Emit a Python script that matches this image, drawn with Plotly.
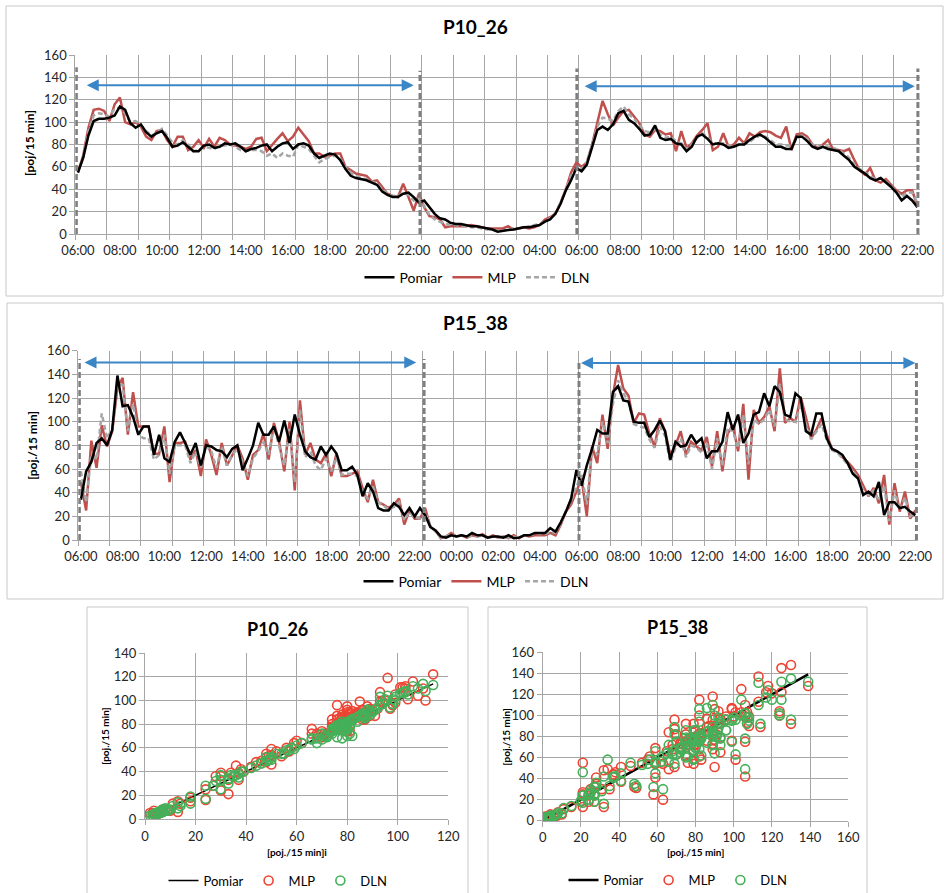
import plotly.graph_objects as go

# ---------------- data ----------------
time_labels = ["06:00", "08:00", "10:00", "12:00", "14:00", "16:00", "18:00", "20:00",
               "22:00", "00:00", "02:00", "04:00", "06:00", "08:00", "10:00", "12:00",
               "14:00", "16:00", "18:00", "20:00", "22:00"]
label_step = 8   # 15-min intervals per 2 h label
grid_step = 6    # 15-min intervals per vertical gridline

p10_pomiar = [55, 68, 88, 101, 103, 103, 104, 106, 114, 111, 99, 95, 98, 91, 87, 90, 92, 86, 78, 79,
              82, 78, 74, 74, 79, 80, 77, 78, 81, 80, 81, 78, 74, 76, 77, 79, 80, 74, 78, 81,
              82, 76, 80, 81, 79, 72, 68, 70, 72, 71, 66, 58, 52, 50, 49,
              48, 46, 44, 38, 35, 33, 33, 36, 37, 33, 28, 30, 24, 18, 14, 13, 10, 9, 9, 8,
              7, 7, 6, 5, 4, 2, 3, 3.5, 4, 5, 6, 6, 7, 8, 11, 13, 18, 27, 39, 48,
              59, 56, 62, 77, 93, 96, 93, 98, 108, 110, 102, 99, 94,
              88, 89, 97, 86, 84, 85, 81, 80, 74, 78, 87, 89, 85, 80, 81, 80, 77, 78, 80, 80,
              84, 87, 89, 86, 82, 78, 78, 76, 76, 87, 87, 83, 78, 76, 78, 76, 75, 74, 70, 66,
              60, 57, 54, 50, 48, 50, 46, 42, 37, 30, 34, 30, 24]
p10_mlp = [55, 70, 95, 111, 112, 110, 101, 116, 122, 100, 98, 100, 96, 87, 84, 92, 93, 84, 78, 87,
           87, 75, 78, 84, 77, 85, 78, 86, 84, 80, 79, 78, 76, 78, 85, 86, 74, 80, 85, 90,
           83, 87, 95, 89, 83, 72, 72, 69, 70, 72, 72, 60, 57, 54, 53,
           52, 47, 48, 42, 36, 34, 33, 45, 33, 21, 36, 24, 16, 15, 13, 6, 7, 7, 7, 7,
           8, 7, 6, 5, 5, 5, 5, 7, 4, 5, 6, 5, 6, 8, 13, 15, 18, 28, 40, 55,
           64, 60, 64, 80, 99, 119, 107, 97, 104, 110, 111, 105, 99,
           89, 87, 93, 92, 89, 90, 74, 92, 77, 81, 88, 93, 99, 75, 78, 90, 78, 80, 86, 81,
           90, 87, 91, 92, 91, 88, 86, 96, 75, 89, 90, 87, 80, 77, 80, 84, 75, 75, 74, 76,
           66, 57, 53, 59, 48, 46, 49, 44, 39, 36, 39, 39, 25]
p10_dln = [55, 68, 92, 106, 108, 107, 105, 112, 113, 108, 100, 101, 97, 92, 88, 90, 94, 88, 82, 80,
           84, 80, 74, 75, 78, 77, 76, 79, 79, 80, 78, 75, 74, 75, 75, 74, 70, 72, 68, 72,
           70, 69, 80, 78, 76, 70, 64, 67, 69, 70, 67, 60, 55, 52, 50,
           49, 47, 45, 40, 36, 34, 34, 37, 35, 30, 32, 25, 17, 13, 11, 9, 8, 8, 7, 7,
           6, 6, 5, 4, 4, 3, 3, 4, 5, 5, 6, 7, 8, 9, 11, 14, 19, 28, 40, 52,
           59, 58, 64, 80, 96, 104, 103, 101, 110, 114, 107, 103, 97,
           92, 91, 94, 89, 86, 87, 83, 81, 76, 80, 86, 90, 87, 80, 82, 81, 79, 79, 80, 81,
           82, 86, 88, 87, 84, 80, 80, 79, 79, 85, 88, 85, 80, 78, 79, 78, 77, 75, 72, 68,
           62, 58, 55, 52, 49, 50, 47, 43, 38, 33, 37, 37, 28]

p15_pomiar = [34, 58, 66, 82, 86, 80, 93, 139, 113, 114, 104, 89, 96, 96, 72, 89, 69, 66, 83, 91,
              82, 72, 82, 63, 80, 79, 76, 75, 70, 77, 80, 59, 69, 80, 99, 89, 89, 96, 83, 101,
              82, 106, 89, 75, 70, 68, 79, 72, 79, 73, 59, 59, 62, 55, 37,
              48, 41, 27, 25, 25, 31, 28, 21, 27, 20, 27, 21, 11, 8, 3, 2, 4, 3, 4, 3,
              6, 4, 4, 2, 3, 3, 2, 4, 1.5, 2, 4, 4, 6, 6, 6, 10, 7, 15, 24, 35,
              59, 46, 63, 77, 93, 90, 90, 125, 130, 118, 117, 100, 99, 99,
              87, 93, 101, 92, 68, 83, 79, 80, 89, 82, 86, 69, 75, 75, 83, 108, 93, 106, 82, 90,
              106, 108, 124, 113, 130, 125, 106, 104, 124, 120, 92, 89, 107, 107, 86, 77, 75, 72, 65, 56,
              52, 38, 41, 37, 49, 21, 32, 32, 27, 28, 24, 21]
p15_mlp = [49, 25, 84, 61, 97, 79, 92, 128, 137, 89, 125, 96, 96, 96, 73, 73, 96, 49, 82, 82,
           83, 68, 76, 54, 85, 72, 55, 82, 63, 72, 80, 69, 51, 72, 76, 90, 68, 99, 83, 58,
           100, 42, 118, 72, 82, 68, 65, 73, 54, 73, 54, 54, 56, 58, 44,
           32, 51, 32, 30, 27, 30, 35, 13, 25, 18, 18, 27, 11, 8, 1.5, 3, 6, 3, 4, 2,
           4, 3, 5, 2, 4, 2, 3, 1.5, 4, 1.5, 4, 3, 4, 4, 4, 6, 4, 13, 24, 30,
           41, 52, 20, 79, 65, 106, 77, 122, 148, 128, 122, 99, 107, 106,
           90, 79, 103, 92, 72, 80, 92, 72, 83, 79, 76, 87, 62, 92, 58, 90, 97, 75, 115, 51,
           110, 99, 104, 113, 92, 145, 99, 103, 100, 121, 104, 86, 93, 103, 89, 77, 75, 70, 66, 61,
           55, 46, 37, 44, 31, 55, 13, 48, 24, 41, 18, 25]
p15_dln = [58, 32, 72, 68, 107, 86, 94, 132, 131, 92, 115, 89, 86, 86, 68, 72, 89, 56, 80, 80,
           80, 65, 75, 61, 80, 75, 61, 79, 63, 72, 77, 66, 54, 69, 75, 83, 72, 96, 80, 63,
           94, 49, 110, 70, 75, 63, 59, 69, 58, 70, 55, 56, 56, 54, 41,
           35, 45, 32, 29, 26, 28, 32, 17, 24, 19, 18, 24, 12, 7, 2, 3, 5, 3, 4, 2,
           4, 3, 4, 2, 3, 2, 3, 2, 3, 2, 4, 4, 5, 5, 5, 7, 6, 14, 25, 33,
           45, 55, 30, 78, 72, 100, 82, 115, 135, 124, 117, 98, 96, 95,
           85, 78, 96, 88, 66, 78, 86, 70, 80, 78, 74, 82, 60, 86, 62, 95, 92, 78, 106, 64,
           102, 98, 102, 110, 96, 132, 102, 100, 100, 115, 98, 85, 92, 98, 85, 76, 74, 69, 64, 58,
           53, 42, 38, 42, 33, 46, 16, 42, 25, 36, 20, 24]

# separator (dashed) positions and blue range arrows, in 15-min interval units
sep_p10 = [-0.3, 65.2, 95.1, 160.1]
sep_top_p10 = [149, 146, 148, 148]
sep_p15 = [-0.3, 65.8, 95.5, 160.2]
sep_top_p15 = [153, 153, 152, 152]
arrows_p10 = [(1.4, 64.0, 133), (96.3, 159.5, 132)]
arrows_p15 = [(0.4, 64.3, 150), (95.6, 160.0, 149.5)]

# ---------------- style ----------------
FONT = "Lato, 'Open Sans', sans-serif"
GRID = "#A6A6A6"
C_POM = "#000000"
C_MLP = "#C0504D"
C_DLN = "#A6A6A6"
C_MLP_S = "#EE4433"
C_DLN_S = "#45B05A"
C_ARROW = "#3B86C6"
C_SEP = "#7F7F7F"
W, H = 944, 893


def px(xp):
    return xp / W


def py(yp):
    return 1 - yp / H


fig = go.Figure()


def add_ts(pom, mlp, dln, xa, ya, leg):
    x = list(range(len(pom)))
    fig.add_trace(go.Scatter(x=x, y=mlp, mode="lines", name="MLP", legendrank=2,
                             line=dict(color=C_MLP, width=2.5), xaxis=xa, yaxis=ya, legend=leg))
    fig.add_trace(go.Scatter(x=x, y=dln, mode="lines", name="DLN", legendrank=3,
                             line=dict(color=C_DLN, width=2.5, dash="5px,3px"),
                             xaxis=xa, yaxis=ya, legend=leg))
    fig.add_trace(go.Scatter(x=x, y=pom, mode="lines", name="Pomiar", legendrank=1,
                             line=dict(color=C_POM, width=2.5), xaxis=xa, yaxis=ya, legend=leg))


def add_sc(pom, mlp, dln, xa, ya, leg, lw):
    s = sorted(pom)
    fig.add_trace(go.Scatter(x=s, y=s, mode="lines", name="Pomiar",
                             line=dict(color=C_POM, width=lw), xaxis=xa, yaxis=ya, legend=leg))
    fig.add_trace(go.Scatter(x=pom, y=mlp, mode="markers", name="MLP",
                             marker=dict(symbol="circle-open", size=9, color=C_MLP_S,
                                         line=dict(width=1.6)),
                             xaxis=xa, yaxis=ya, legend=leg))
    fig.add_trace(go.Scatter(x=pom, y=dln, mode="markers", name="DLN",
                             marker=dict(symbol="circle-open", size=9, color=C_DLN_S,
                                         line=dict(width=1.6)),
                             xaxis=xa, yaxis=ya, legend=leg))


add_ts(p10_pomiar, p10_mlp, p10_dln, "x", "y", "legend")
add_ts(p15_pomiar, p15_mlp, p15_dln, "x2", "y2", "legend2")
add_sc(p10_pomiar, p10_mlp, p10_dln, "x3", "y3", "legend3", 1.5)
add_sc(p15_pomiar, p15_mlp, p15_dln, "x4", "y4", "legend4", 2.5)

tickfont = dict(family=FONT, size=13, color="#262626")

n = len(p10_pomiar)


def ts_xaxis(domain, anchor):
    return dict(domain=domain, anchor=anchor, range=[-0.5, n - 0.5], automargin=False,
                tickmode="array", tickvals=list(range(0, n, label_step)), ticktext=time_labels,
                ticks="", showgrid=False, zeroline=False, showline=True, linecolor=GRID,
                tickfont=tickfont, ticklabelstandoff=4,
                minor=dict(tickmode="linear", tick0=-0.5, dtick=grid_step, showgrid=True,
                           gridcolor=GRID, gridwidth=1, ticks="outside", ticklen=5,
                           tickcolor=GRID))


def val_axis(domain, anchor, top):
    return dict(domain=domain, anchor=anchor, range=[0, top], tick0=0, dtick=20,
                automargin=False,
                showgrid=True, gridcolor=GRID, gridwidth=1, zeroline=False,
                showline=True, linecolor=GRID, ticks="outside", ticklen=5, tickcolor=GRID,
                tickfont=tickfont)


legend_common = dict(orientation="h", xanchor="center", yanchor="middle",
                     bgcolor="rgba(0,0,0,0)", itemwidth=30,
                     font=dict(family=FONT, size=14, color="#000000"))

fig.update_layout(
    width=W, height=H, margin=dict(l=0, r=0, t=0, b=0, autoexpand=False),
    paper_bgcolor="white", plot_bgcolor="white",
    font=dict(family=FONT, color="#000000"),
    xaxis=ts_xaxis([px(75.3), px(920)], "y"),
    yaxis=val_axis([py(234), py(55)], "x", 160),
    xaxis2=ts_xaxis([px(78.3), px(918)], "y2"),
    yaxis2=val_axis([py(540), py(350.7)], "x2", 160),
    xaxis3=val_axis([px(145), px(448.3)], "y3", 120),
    yaxis3=val_axis([py(819), py(653)], "x3", 140),
    xaxis4=val_axis([px(542.7), px(848.3)], "y4", 160),
    yaxis4=val_axis([py(820.7), py(652.3)], "x4", 160),
    legend=dict(legend_common, x=px(477.5), y=py(277.7)),
    legend2=dict(legend_common, x=px(476.5), y=py(581.7)),
    legend3=dict(legend_common, x=px(278), y=py(880.5), font=dict(family=FONT, size=13)),
    legend4=dict(legend_common, x=px(678), y=py(880), font=dict(family=FONT, size=13)),
)

shapes = []
# panel borders
for (x0, y0, x1, y1) in [(6, 6, 943, 296), (7, 303, 943, 599), (87, 607, 468, 905), (488, 607, 867, 905)]:
    shapes.append(dict(type="rect", xref="paper", yref="paper", x0=px(x0), x1=px(x1),
                       y0=py(y1), y1=py(y0), line=dict(color="#C8C8C8", width=1),
                       fillcolor="rgba(0,0,0,0)", layer="below"))
# dashed separators
for xs, tops, xr, yr in [(sep_p10, sep_top_p10, "x", "y"), (sep_p15, sep_top_p15, "x2", "y2")]:
    for xv, tv in zip(xs, tops):
        shapes.append(dict(type="line", xref=xr, yref=yr, x0=xv, x1=xv, y0=0, y1=tv,
                           line=dict(color=C_SEP, width=3, dash="6px,3px")))
fig.update_layout(shapes=shapes)

ann = []
for arrs, xr, yr in [(arrows_p10, "x", "y"), (arrows_p15, "x2", "y2")]:
    for (a, b, yv) in arrs:
        ann.append(dict(x=b, y=yv, ax=a, ay=yv, xref=xr, yref=yr, axref=xr, ayref=yr,
                        text="", showarrow=True, arrowhead=2, startarrowhead=2,
                        arrowside="end+start", arrowsize=1.2, startarrowsize=1.2,
                        arrowwidth=2, arrowcolor=C_ARROW))

titles = [("P10_26", 475.5, 27, 19), ("P15_38", 475.5, 323, 19),
          ("P10_26", 277.5, 629, 18), ("P15_38", 677, 627, 18)]
for t, xp_, yp_, fs in titles:
    ann.append(dict(text="<b>%s</b>" % t, x=px(xp_), y=py(yp_), xref="paper", yref="paper",
                    xanchor="center", yanchor="middle", showarrow=False,
                    font=dict(family=FONT, size=fs, color="#000000")))

axis_titles = [("[poj/15 min]", 29, 143, -90, 12), ("[poj./15 min]", 31.7, 445, -90, 12),
               ("[poj./15 min]", 105, 736.7, -90, 10), ("[poj./15 min]", 505.7, 736.7, -90, 10),
               ("[poj./15 min]i", 297, 852, 0, 10), ("[poj./15 min]", 695.7, 852, 0, 10)]
for t, xp_, yp_, ang, fs in axis_titles:
    ann.append(dict(text="<b>%s</b>" % t, x=px(xp_), y=py(yp_), xref="paper", yref="paper",
                    xanchor="center", yanchor="middle", showarrow=False, textangle=ang,
                    font=dict(family=FONT, size=fs, color="#000000")))
fig.update_layout(annotations=ann)

fig.write_html("out.html", config={"displayModeBar": False},
               post_script="document.body.style.margin='0px';")
